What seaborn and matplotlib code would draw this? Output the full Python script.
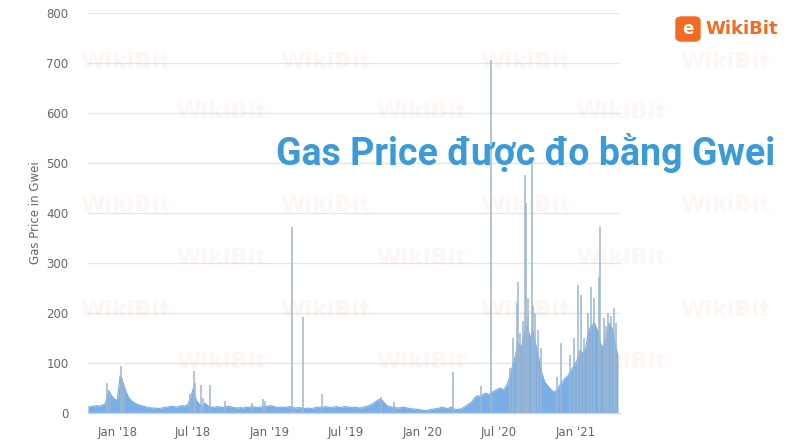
import pandas as pd
import matplotlib.pyplot as plt
import seaborn as sns
from matplotlib.patches import FancyBboxPatch

# weekly gas price level (Gwei), starting 2017-10-23
base_gwei = [
    12, 13, 14, 15, 14, 16, 20, 45, 35, 28,
    25, 75, 60, 42, 30, 24, 20, 17, 15, 14,
    12, 11, 10, 10, 9, 10, 11, 12, 13, 14,
    12, 13, 15, 14, 16, 30, 50, 25, 18, 14,
    20, 14, 12, 11, 13, 12, 11, 12, 14, 12,
    11, 10, 11, 10, 12, 11, 13, 12, 11, 12,
    14, 13, 15, 14, 12, 11, 12, 11, 12, 13,
    11, 10, 11, 10, 9, 10, 9, 10, 11, 12,
    11, 13, 12, 11, 12, 13, 11, 12, 13, 12,
    11, 12, 11, 10, 12, 13, 15, 18, 22, 26,
    28, 22, 15, 13, 12, 11, 10, 11, 12, 10,
    9, 8, 8, 7, 6, 5, 6, 7, 8, 9,
    10, 12, 10, 9, 12, 8, 7, 8, 10, 14,
    18, 22, 30, 35, 33, 38, 40, 36, 42, 45,
    48, 50, 46, 55, 70, 95, 115, 140, 130, 160,
    175, 150, 165, 135, 110, 80, 62, 55, 48, 42,
    45, 55, 62, 70, 75, 85, 95, 105, 125, 120,
    130, 165, 175, 180, 165, 140, 130, 155, 180, 170,
    140, 115,
]

# single-day spikes
spike_dates = [
    "2017-12-08", "2017-12-14", "2018-01-09", "2018-01-13", "2018-01-18",
    "2018-06-23", "2018-07-04", "2018-07-06", "2018-07-19", "2018-07-26",
    "2018-08-10", "2018-09-15", "2018-11-20", "2018-12-15", "2018-12-20",
    "2019-02-23", "2019-03-22", "2019-05-05", "2019-09-24", "2019-10-25",
    "2020-03-14", "2020-05-20", "2020-06-13", "2020-07-28", "2020-08-05",
    "2020-08-14", "2020-08-17", "2020-08-22", "2020-08-28", "2020-09-02",
    "2020-09-04", "2020-09-09", "2020-09-10", "2020-09-18", "2020-09-22",
    "2020-09-25", "2020-10-04", "2020-10-10", "2020-11-18", "2020-11-27",
    "2020-12-19", "2020-12-28", "2021-01-06", "2021-01-14", "2021-01-22",
    "2021-01-30", "2021-02-06", "2021-02-14", "2021-02-26", "2021-02-28",
    "2021-03-10", "2021-03-14", "2021-03-20", "2021-03-26", "2021-04-02",
    "2021-04-08",
]
spike_gwei = [
    60, 42, 94, 70, 55,
    38, 85, 60, 56, 30,
    56, 25, 20, 28, 25,
    372, 192, 38, 32, 22,
    83, 55, 705, 90, 150,
    220, 263, 160, 185, 476,
    420, 230, 193, 512, 215,
    200, 166, 130, 73, 140,
    116, 150, 256, 236, 150,
    200, 253, 230, 273, 372,
    190, 175, 200, 195, 210,
    180,
]

y_ticks = [0, 100, 200, 300, 400, 500, 600, 700, 800]
x_tick_dates = ["2018-01-01", "2018-07-01", "2019-01-01", "2019-07-01",
                "2020-01-01", "2020-07-01", "2021-01-01"]
x_tick_labels = ["Jan '18", "Jul '18", "Jan '19", "Jul '19",
                 "Jan '20", "Jul '20", "Jan '21"]

sns.set_theme(style="white")
plt.rcParams['font.family'] = ['DejaVu Sans']

df = pd.DataFrame({
    "date": pd.date_range("2017-10-23", periods=len(base_gwei), freq="7D"),
    "gwei": base_gwei,
})
spikes = pd.DataFrame({"date": pd.to_datetime(spike_dates), "gwei": spike_gwei})

fill_color = "#7aaee6"
fig = plt.figure(figsize=(8, 4.48), dpi=100)
ax = fig.add_axes([0.11, 0.078, 0.665, 0.893])

ax.fill_between(df["date"], 0, df["gwei"], color=fill_color, lw=0, zorder=2)
sns.lineplot(data=df, x="date", y="gwei", ax=ax, color=fill_color, lw=0.8, zorder=3)
ax.vlines(spikes["date"], 0, spikes["gwei"], color="#9db6d0", lw=1.1, zorder=4)

ax.set_ylim(0, 800)
ax.set_xlim(pd.Timestamp("2017-10-23"), pd.Timestamp("2021-04-17"))
ax.set_yticks(y_ticks)
ax.set_xticks(pd.to_datetime(x_tick_dates))
ax.set_xticklabels(x_tick_labels)
ax.yaxis.grid(True, color="#e6e6e6", lw=1, zorder=0)
ax.set_axisbelow(True)
for s in ["top", "right", "left"]:
    ax.spines[s].set_visible(False)
ax.spines["bottom"].set_color("#ccd6eb")
ax.spines["bottom"].set_linewidth(1)
ax.tick_params(axis="x", colors="#666666", length=6, width=1, color="#ccd6eb",
               labelsize=8.5, direction="out", pad=3)
ax.tick_params(axis="y", colors="#666666", length=0, labelsize=8.5, pad=14)
ax.set_xlabel("")
ax.set_ylabel("Gas Price in Gwei", color="#666666", fontsize=8.5, labelpad=3)

# faint watermarks, kept inside the frame and clear of the title band
for row, ypx in enumerate([62, 112, 205, 258, 310, 362]):
    for col in range(4):
        xw = 0.10 + col * 0.25 + (row % 2) * 0.12
        if xw > 0.86:
            continue
        fig.text(xw, 1 - ypx / 448, "WikiBit", color="#f3a07c", alpha=0.09,
                 fontsize=16, fontweight="bold", ha="left", va="center", zorder=10)

# title overlay
fig.text(775 / 800, 1 - 165 / 448, "Gas Price được đo bằng Gwei", color="#3b9ad8",
         fontsize=27, fontweight="bold", family=["Roboto", "DejaVu Sans"],
         ha="right", va="baseline", zorder=12)

# logo
logo = FancyBboxPatch((676 / 800, 1 - 41 / 448), 24 / 800, 24 / 448,
                      boxstyle="round,pad=0,rounding_size=0.008",
                      transform=fig.transFigure, color="#f26b21", zorder=12)
fig.patches.append(logo)
fig.text(688 / 800, 1 - 29 / 448, "e", color="white", fontsize=12, fontweight="bold",
         ha="center", va="center", zorder=13)
fig.text(705 / 800, 1 - 29 / 448, "WikiBit", color="#f26b21", fontsize=13,
         fontweight="bold", ha="left", va="center", zorder=12)

fig.savefig("out.png", dpi=100)
